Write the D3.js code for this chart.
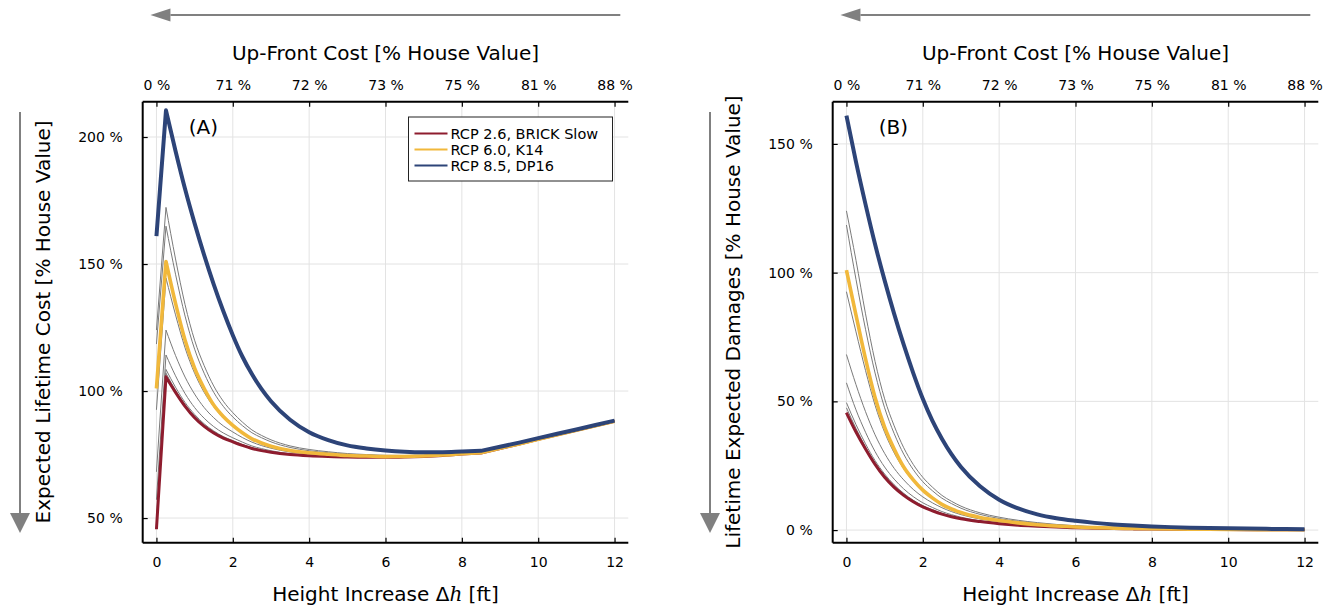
<!DOCTYPE html>
<html>
<head>
<meta charset="utf-8">
<script src="https://cdn.jsdelivr.net/npm/d3@7"></script>
<style>
  html, body { margin: 0; padding: 0; background: #fff; }
  svg text { font-family: "DejaVu Sans", sans-serif; fill: #000; }
</style>
</head>
<body>
<svg id="chart" width="1333" height="608"></svg>
<script>
// ---------------- data ----------------
const heights = [0, 0.25, 0.5, 0.75, 1, 1.25, 1.5, 1.75, 2, 2.25, 2.5, 2.75, 3, 3.5, 4, 4.5, 5, 5.5, 6, 6.5, 7, 7.5, 8, 8.5, 9, 9.5, 10, 10.5, 11, 11.5, 12];

// up-front elevation cost [% house value]
const upFrontCost = [0, 67.5, 68, 68.5, 69, 69.5, 70, 70.5, 71, 71.1, 71.2, 71.35, 71.5, 71.7, 72, 72.3, 72.5, 72.8, 73, 73.3, 73.7, 74.2, 74.8, 75.3, 77.1, 78.9, 80.8, 82.6, 84.4, 86.2, 88];

// lifetime expected damages [% house value]
const damagesBRICKSlow = [45.6, 38.1, 31.5, 25.5, 20.5, 16.6, 13.5, 11, 9.0, 7.5, 6.2, 5.2, 4.4, 3.3, 2.5, 1.9, 1.5, 1.15, 0.9, 0.72, 0.58, 0.47, 0.38, 0.32, 0.27, 0.23, 0.19, 0.16, 0.14, 0.12, 0.1];
const damagesK14 = [101, 83.5, 66.5, 51.5, 40, 31.5, 24.5, 19.5, 15.5, 12.5, 10, 8.2, 6.8, 4.9, 3.7, 2.8, 2.1, 1.6, 1.2, 0.95, 0.75, 0.6, 0.5, 0.42, 0.35, 0.3, 0.25, 0.21, 0.18, 0.15, 0.13];
const damagesDP16 = [161, 143, 126.5, 111, 97, 84, 72, 61, 51, 42.5, 35.5, 29.5, 24.5, 17, 11.8, 8.4, 6.1, 4.6, 3.6, 2.8, 2.2, 1.75, 1.4, 1.15, 0.95, 0.8, 0.67, 0.57, 0.48, 0.41, 0.35];

// other (grey) scenarios
const damagesOther1 = [124, 104.8, 84, 65.5, 51, 40.5, 32, 25.5, 20.5, 16.7, 13.5, 11.2, 9.3, 6.7, 5.0, 3.8, 2.9, 2.2, 1.7, 1.35, 1.05, 0.85, 0.7, 0.58, 0.48, 0.4, 0.34, 0.29, 0.25, 0.21, 0.18];
const damagesOther2 = [118.5, 97.4, 78, 61, 47.5, 37.5, 29.5, 23.5, 18.8, 15.3, 12.4, 10.3, 8.5, 6.1, 4.5, 3.4, 2.6, 2.0, 1.55, 1.2, 0.95, 0.77, 0.63, 0.52, 0.43, 0.36, 0.3, 0.26, 0.22, 0.19, 0.16];
const damagesOther3 = [92.6, 77, 62, 48.5, 38, 30, 23.8, 19, 15.2, 12.3, 10, 8.3, 6.9, 5.0, 3.7, 2.8, 2.1, 1.6, 1.25, 1.0, 0.78, 0.63, 0.52, 0.43, 0.36, 0.3, 0.25, 0.21, 0.18, 0.15, 0.13];
const damagesOther4 = [68.2, 56.5, 46, 37, 29.8, 24, 19.5, 15.8, 12.9, 10.6, 8.7, 7.2, 6.0, 4.3, 3.2, 2.4, 1.85, 1.4, 1.1, 0.87, 0.7, 0.56, 0.45, 0.37, 0.31, 0.26, 0.22, 0.19, 0.16, 0.14, 0.12];
const damagesOther5 = [57.2, 46.7, 38, 30.5, 24.5, 19.8, 16, 13, 10.6, 8.8, 7.2, 6.0, 5.0, 3.6, 2.7, 2.05, 1.6, 1.2, 0.95, 0.75, 0.6, 0.48, 0.39, 0.32, 0.27, 0.23, 0.19, 0.16, 0.14, 0.12, 0.1];
const damagesOther6 = [49.5, 41, 33.5, 27, 21.8, 17.6, 14.3, 11.6, 9.5, 7.9, 6.5, 5.5, 4.6, 3.4, 2.6, 2.0, 1.55, 1.2, 0.93, 0.74, 0.59, 0.47, 0.38, 0.32, 0.27, 0.22, 0.19, 0.16, 0.14, 0.12, 0.1];
const damagesOther7 = [47.5, 39.5, 32.3, 26.2, 21.2, 17.2, 14, 11.4, 9.3, 7.7, 6.4, 5.4, 4.5, 3.4, 2.6, 1.95, 1.5, 1.17, 0.92, 0.73, 0.58, 0.47, 0.38, 0.31, 0.26, 0.22, 0.19, 0.16, 0.14, 0.12, 0.1];

const legendLabels = ["RCP 2.6, BRICK Slow", "RCP 6.0, K14", "RCP 8.5, DP16"];
const xTicks = [0, 2, 4, 6, 8, 10, 12];
const topTickLabels = ["0 %", "71 %", "72 %", "73 %", "75 %", "81 %", "88 %"];
const yTicksA = [50, 100, 150, 200];
const yTicksB = [0, 50, 100, 150];
const costBreakHeight = 8.5; // up-front cost rate changes here (kink in panel A)

// ---------------- drawing ----------------
const svg = d3.select("#chart");
const colors = { red: "#8e1c2e", yellow: "#f1b83b", blue: "#2d4478", grey: "#7a7a7a" };
const otherSeries = [damagesOther1, damagesOther2, damagesOther3, damagesOther4, damagesOther5, damagesOther6, damagesOther7];
const mainSeries = [
  { d: damagesBRICKSlow, color: colors.red, w: 3 },
  { d: damagesK14, color: colors.yellow, w: 3.6 },
  { d: damagesDP16, color: colors.blue, w: 4 }
];

const defs = svg.append("defs");

function arrow(x1, y1, x2, y2, headLen, headHalf) {
  const dx = x2 - x1, dy = y2 - y1, L = Math.hypot(dx, dy);
  const ux = dx / L, uy = dy / L;
  const bx = x2 - ux * headLen, by = y2 - uy * headLen;
  svg.append("line").attr("x1", x1).attr("y1", y1).attr("x2", bx).attr("y2", by)
    .attr("stroke", "#808080").attr("stroke-width", 2);
  svg.append("path")
    .attr("d", `M${x2},${y2}L${bx - uy * headHalf},${by + ux * headHalf}L${bx + uy * headHalf},${by - ux * headHalf}Z`)
    .attr("fill", "#808080");
}

function panel(cfg) {
  const L = cfg.left, R = cfg.left + 485.6, T = 101.7, B = 542.7;
  const x = d3.scaleLinear().domain([-0.36, 12.36]).range([L, R]);
  const y = d3.scaleLinear().domain(cfg.yDomain).range([B, T]);
  const g = svg.append("g");
  const clipId = "clip" + cfg.id;
  defs.append("clipPath").attr("id", clipId).append("rect")
    .attr("x", L).attr("y", T).attr("width", R - L).attr("height", B - T);

  // grid
  g.append("g").selectAll("line").data(xTicks).join("line")
    .attr("x1", d => x(d)).attr("x2", d => x(d)).attr("y1", T).attr("y2", B)
    .attr("stroke", "#e3e3e3").attr("stroke-width", 1);
  g.append("g").selectAll("line").data(cfg.yTicks).join("line")
    .attr("x1", L).attr("x2", R).attr("y1", d => y(d)).attr("y2", d => y(d))
    .attr("stroke", "#e3e3e3").attr("stroke-width", 1);

  // curves
  const smooth = d3.line().x(d => x(d[0])).y(d => y(d[1])).curve(d3.curveMonotoneX);
  const straight = d3.line().x(d => x(d[0])).y(d => y(d[1]));
  const kIdx = heights.indexOf(costBreakHeight);
  const path = pts => {
    if (!cfg.total) return smooth(pts);
    // straight first step (0 -> 0.25 ft), smooth until the cost break, straight after it
    const first = straight(pts.slice(0, 2));
    const mid = smooth(pts.slice(1, kIdx + 1));
    const tail = straight(pts.slice(kIdx));
    return first + "L" + mid.slice(1) + "L" + tail.slice(1);
  };
  const val = arr => heights.map((h, i) => [h, cfg.total ? upFrontCost[i] + arr[i] : arr[i]]);
  const cg = g.append("g").attr("clip-path", `url(#${clipId})`)
    .attr("fill", "none").attr("stroke-linejoin", "round").attr("stroke-linecap", "butt");
  cg.selectAll("path.other").data(otherSeries).join("path").attr("class", "other")
    .attr("d", s => path(val(s))).attr("stroke", colors.grey).attr("stroke-width", 1);
  cg.selectAll("path.main").data(mainSeries).join("path").attr("class", "main")
    .attr("d", s => path(val(s.d))).attr("stroke", s => s.color).attr("stroke-width", s => s.w);

  // axes (inward ticks)
  const axB = g.append("g").attr("transform", `translate(0,${B})`)
    .call(d3.axisBottom(x).tickValues(xTicks).tickSizeInner(-5).tickSizeOuter(0).tickPadding(14));
  const axT = g.append("g").attr("transform", `translate(0,${T})`)
    .call(d3.axisTop(x).tickValues(xTicks).tickFormat((d, i) => topTickLabels[i]).tickSizeInner(-5).tickSizeOuter(0).tickPadding(12));
  const axL = g.append("g").attr("transform", `translate(${L},0)`)
    .call(d3.axisLeft(y).tickValues(cfg.yTicks).tickFormat(d => d + " %").tickSizeInner(-5).tickSizeOuter(0).tickPadding(20));
  [axB, axT, axL].forEach(a => {
    a.select(".domain").attr("stroke", "#000").attr("stroke-width", 2);
    a.selectAll(".tick line").attr("stroke", "#000").attr("stroke-width", 1.2);
    a.selectAll(".tick text").attr("font-size", 14).attr("font-family", "DejaVu Sans").attr("fill", "#000");
  });
  axB.select(".domain").attr("d", `M${L},0H${R}`);
  axT.select(".domain").attr("d", `M${L},0H${R}`);
  axL.select(".domain").attr("d", `M0,${T}V${B}`);

  // titles
  const cx = (L + R) / 2;
  const bt = g.append("text").attr("x", cx).attr("y", 601).attr("text-anchor", "middle").attr("font-size", 20);
  bt.append("tspan").text("Height Increase Δ");
  bt.append("tspan").attr("font-family", "DejaVu Serif").attr("font-style", "italic").text("h");
  bt.append("tspan").text(" [ft]");
  g.append("text").attr("x", cx).attr("y", 60).attr("text-anchor", "middle").attr("font-size", 20)
    .text("Up-Front Cost [% House Value]");
  g.append("text").attr("transform", `translate(${cfg.ylabelX},322) rotate(-90)`)
    .attr("text-anchor", "middle").attr("font-size", 20).text(cfg.ylabel);
  g.append("text").attr("x", L + 46).attr("y", 134).attr("font-size", 20).text(cfg.tag);

  // arrows
  arrow(R - 8, 15, x(0) - 6, 15, 20, 6.5);
  arrow(cfg.arrowX, 112, cfg.arrowX, 533, 20, 10);

  return { x, y, L, R, T, B, g };
}

panel({ id: "A", left: 142.7, yDomain: [40.3, 213.9], yTicks: yTicksA, total: true,
  ylabel: "Expected Lifetime Cost [% House Value]", ylabelX: 49.5, arrowX: 20, tag: "(A)" });
panel({ id: "B", left: 832.7, yDomain: [-4.9, 166.4], yTicks: yTicksB, total: false,
  ylabel: "Lifetime Expected Damages [% House Value]", ylabelX: 739.5, arrowX: 710, tag: "(B)" });

// legend (panel A)
const lg = svg.append("g").attr("transform", "translate(408.5,117)");
lg.append("rect").attr("width", 204).attr("height", 64).attr("fill", "#fff")
  .attr("stroke", "#222").attr("stroke-width", 1);
legendLabels.forEach((lab, i) => {
  const yy = 16.5 + i * 16;
  lg.append("line").attr("x1", 6).attr("x2", 39).attr("y1", yy).attr("y2", yy)
    .attr("stroke", mainSeries[i].color).attr("stroke-width", 2);
  lg.append("text").attr("x", 42).attr("y", yy + 5).attr("font-size", 14.5).text(lab);
});
</script>
</body>
</html>
